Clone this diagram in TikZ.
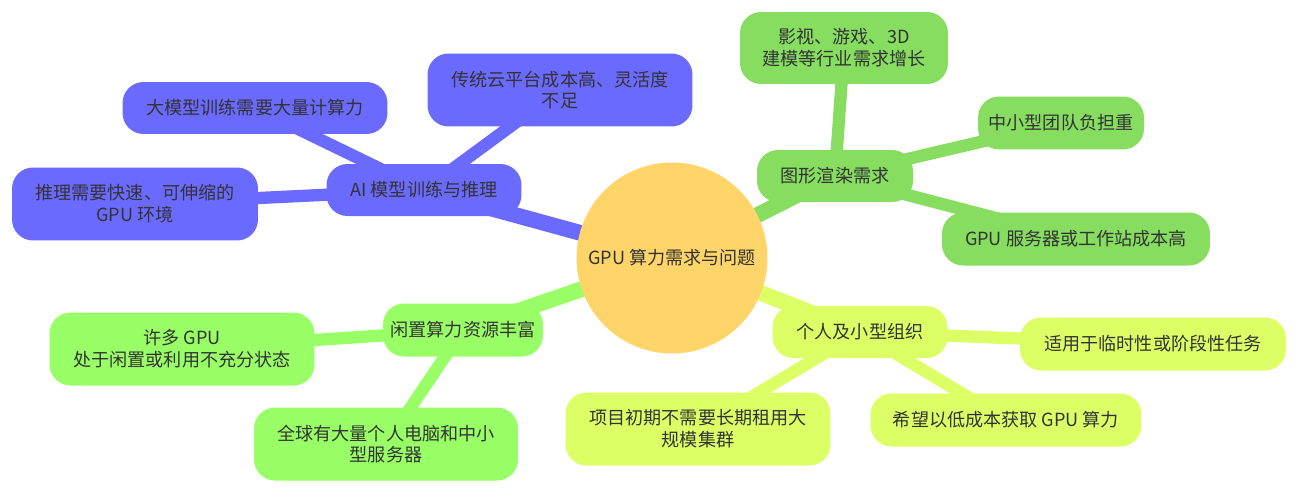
\documentclass[tikz,border=0pt]{standalone}
\usepackage{fontspec}
\setmainfont{Noto Sans CJK SC}
\usepackage{tikz}
\usetikzlibrary{shapes.geometric, backgrounds, positioning}

\definecolor{aiblue}{RGB}{106,106,255}
\definecolor{rendergreen}{RGB}{134,221,95}
\definecolor{idlegreen}{RGB}{153,255,102}
\definecolor{smallyellow}{RGB}{221,255,102}
\definecolor{rootyellow}{RGB}{255,213,106}
\definecolor{textgray}{RGB}{51,51,51}

\begin{document}
\begin{tikzpicture}[
    x=0.02cm, y=-0.02cm,
    box/.style={rectangle, rounded corners=0.42cm, align=center, inner sep=2pt,
        text=textgray, font=\fontsize{10.3}{12.4}\selectfont},
    aibox/.style={box, fill=aiblue},
    renderbox/.style={box, fill=rendergreen},
    idlebox/.style={box, fill=idlegreen},
    smallbox/.style={box, fill=smallyellow},
    rootnode/.style={circle, fill=rootyellow, minimum size=3.82cm, inner xsep=-12pt, inner ysep=0pt,
        text=textgray, font=\fontsize{10.3}{12.4}\selectfont},
    mainline/.style={line width=9pt},
    subline/.style={line width=7pt}
]
\useasboundingbox (0,0) rectangle (1300,494);

% Centro
\node[rootnode] (root) at (672,258) {GPU 算力需求与问题};

% AI
\node[aibox, minimum width=3.9cm, minimum height=1.04cm] (ai) at (424,190) {AI 模型训练与推理};
\node[aibox, minimum width=5.3cm, minimum height=1.04cm] (big) at (255,108) {大模型训练需要大量计算力};
\node[aibox, minimum width=5.3cm, minimum height=1.46cm] (cloud) at (560,90) {传统云平台成本高、灵活度\\不足};
\node[aibox, minimum width=4.92cm, minimum height=1.46cm] (infer) at (135,204) {推理需要快速、可伸缩的\\GPU 环境};

% Render
\node[renderbox, minimum width=3.12cm, minimum height=1.04cm] (render) at (835,176) {图形渲染需求};
\node[renderbox, minimum width=4.16cm, minimum height=1.44cm] (film) at (844,48) {影视、游戏、3D\\建模等行业需求增长};
\node[renderbox, minimum width=3.32cm, minimum height=1.06cm] (team) at (1061,123) {中小型团队负担重};
\node[renderbox, minimum width=5.36cm, minimum height=1.06cm] (server) at (1076,239) {GPU 服务器或工作站成本高};

% Idle
\node[idlebox, minimum width=3.2cm, minimum height=1.06cm] (idle) at (463,330) {闲置算力资源丰富};
\node[idlebox, minimum width=5.3cm, minimum height=1.46cm] (many) at (182,349) {许多 GPU\\处于闲置或利用不充分状态};
\node[idlebox, minimum width=5.28cm, minimum height=1.46cm] (global) at (386,444) {全球有大量个人电脑和中小\\型服务器};

% Personal
\node[smallbox, minimum width=3.5cm, minimum height=1.04cm] (personal) at (860,332) {个人及小型组织};
\node[smallbox, minimum width=5.32cm, minimum height=1.06cm] (temp) at (1153,344) {适用于临时性或阶段性任务};
\node[smallbox, minimum width=5.3cm, minimum height=1.46cm] (project) at (698,429) {项目初期不需要长期租用大\\规模集群};
\node[smallbox, minimum width=5.42cm, minimum height=1.06cm] (cheap) at (1006,420) {希望以低成本获取 GPU 算力};

% Connectors (centro a centro, detras de los nodos)
\begin{scope}[on background layer]
\draw[mainline, aiblue] (root.center) -- (ai.center);
\draw[subline, aiblue] (ai.center) -- (big.center);
\draw[subline, aiblue] (ai.center) -- (cloud.center);
\draw[subline, aiblue] (ai.center) -- (infer.center);
\draw[mainline, rendergreen] (root.center) -- (render.center);
\draw[subline, rendergreen] (render.center) -- (film.center);
\draw[subline, rendergreen] (render.center) -- (team.center);
\draw[subline, rendergreen] (render.center) -- (server.center);
\draw[mainline, idlegreen] (root.center) -- (idle.center);
\draw[subline, idlegreen] (idle.center) -- (many.center);
\draw[subline, idlegreen] (idle.center) -- (global.center);
\draw[mainline, smallyellow] (root.center) -- (personal.center);
\draw[subline, smallyellow] (personal.center) -- (temp.center);
\draw[subline, smallyellow] (personal.center) -- (project.center);
\draw[subline, smallyellow] (personal.center) -- (cheap.center);
\end{scope}

\end{tikzpicture}
\end{document}
